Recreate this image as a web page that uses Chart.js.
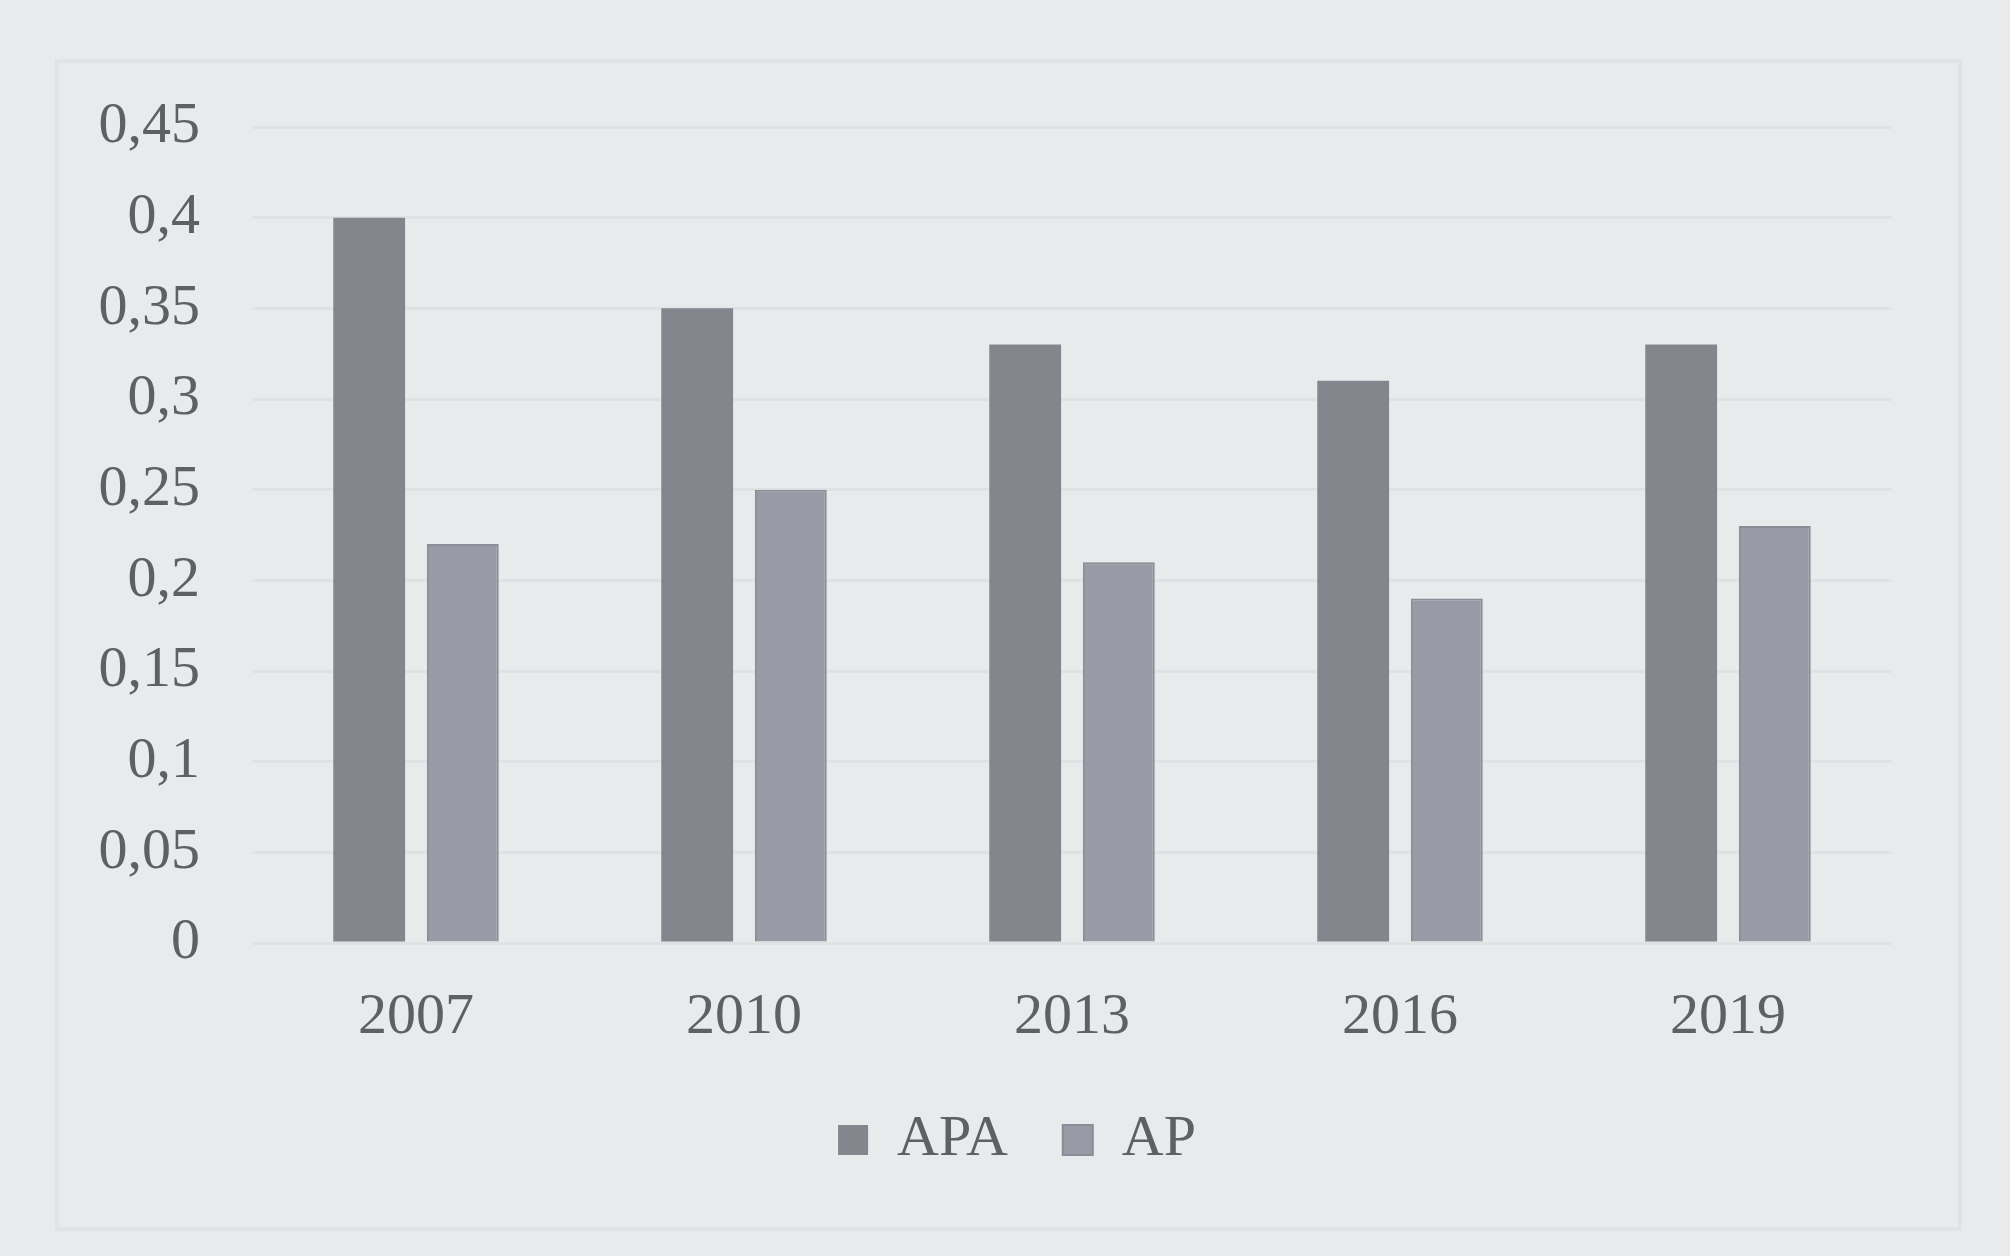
<!DOCTYPE html>
<html>
<head>
<meta charset="utf-8">
<script src="https://cdn.jsdelivr.net/npm/chart.js@4.4.1/dist/chart.umd.min.js"></script>
<style>
  html, body { margin: 0; padding: 0; background: #e9eaec; }
  #frame {
    position: absolute; left: 55px; top: 59px;
    width: 1899px; height: 1164px;
    border: 4px solid #e1e2e4;
  }
  #c { position: absolute; left: 0; top: 0; }
</style>
</head>
<body>
<div id="frame"></div>
<canvas id="c" width="2010" height="1256"></canvas>
<script>
var years = ["2007", "2010", "2013", "2016", "2019"];
var apaValues = [0.40, 0.35, 0.33, 0.31, 0.33];
var apValues = [0.22, 0.25, 0.21, 0.19, 0.23];
var yTickLabels = ["0", "0,05", "0,1", "0,15", "0,2", "0,25", "0,3", "0,35", "0,4", "0,45"];

var textColor = "#5f6063";
var fontFamily = "'Liberation Serif', 'DejaVu Serif', serif";

// legend sits centred on the whole frame, not on the plot width
var legendShift = {
  id: "legendShift",
  afterLayout: function (chart) {
    chart.legend.left += 71;
    chart.legend.right += 71;
  }
};

new Chart(document.getElementById("c"), {
  type: "bar",
  data: {
    labels: years,
    datasets: [{
      label: "APA",
      data: apaValues,
      backgroundColor: "#85858d",
      borderColor: "#85858d",
      borderWidth: 0
    }, {
      label: "AP",
      data: apValues,
      backgroundColor: "#999aa5",
      borderColor: "#8b8c96",
      borderWidth: 2
    }]
  },
  options: {
    responsive: false,
    devicePixelRatio: 1,
    animation: false,
    categoryPercentage: 0.571,
    barPercentage: 0.767,
    layout: { padding: { left: 0, top: 127, right: 118, bottom: 77 } },
    plugins: {
      legend: {
        position: "bottom",
        labels: {
          boxWidth: 30,
          boxHeight: 30,
          padding: 55,
          color: textColor,
          font: { family: fontFamily, size: 58 }
        }
      },
      tooltip: { enabled: false }
    },
    scales: {
      x: {
        grid: { display: false },
        border: { display: false },
        ticks: {
          color: textColor,
          padding: 32,
          font: { family: fontFamily, size: 58 }
        },
        afterFit: function (scale) { scale.height = 113; }
      },
      y: {
        min: 0,
        max: 0.45,
        border: { display: false },
        grid: { color: "#e0e1e4", lineWidth: 3, drawTicks: false },
        ticks: {
          stepSize: 0.05,
          padding: 52,
          color: textColor,
          font: { family: fontFamily, size: 58 },
          callback: function (value, index) { return yTickLabels[index]; }
        },
        afterFit: function (scale) { scale.width = 252; }
      }
    }
  },
  plugins: [legendShift]
});
</script>
</body>
</html>
